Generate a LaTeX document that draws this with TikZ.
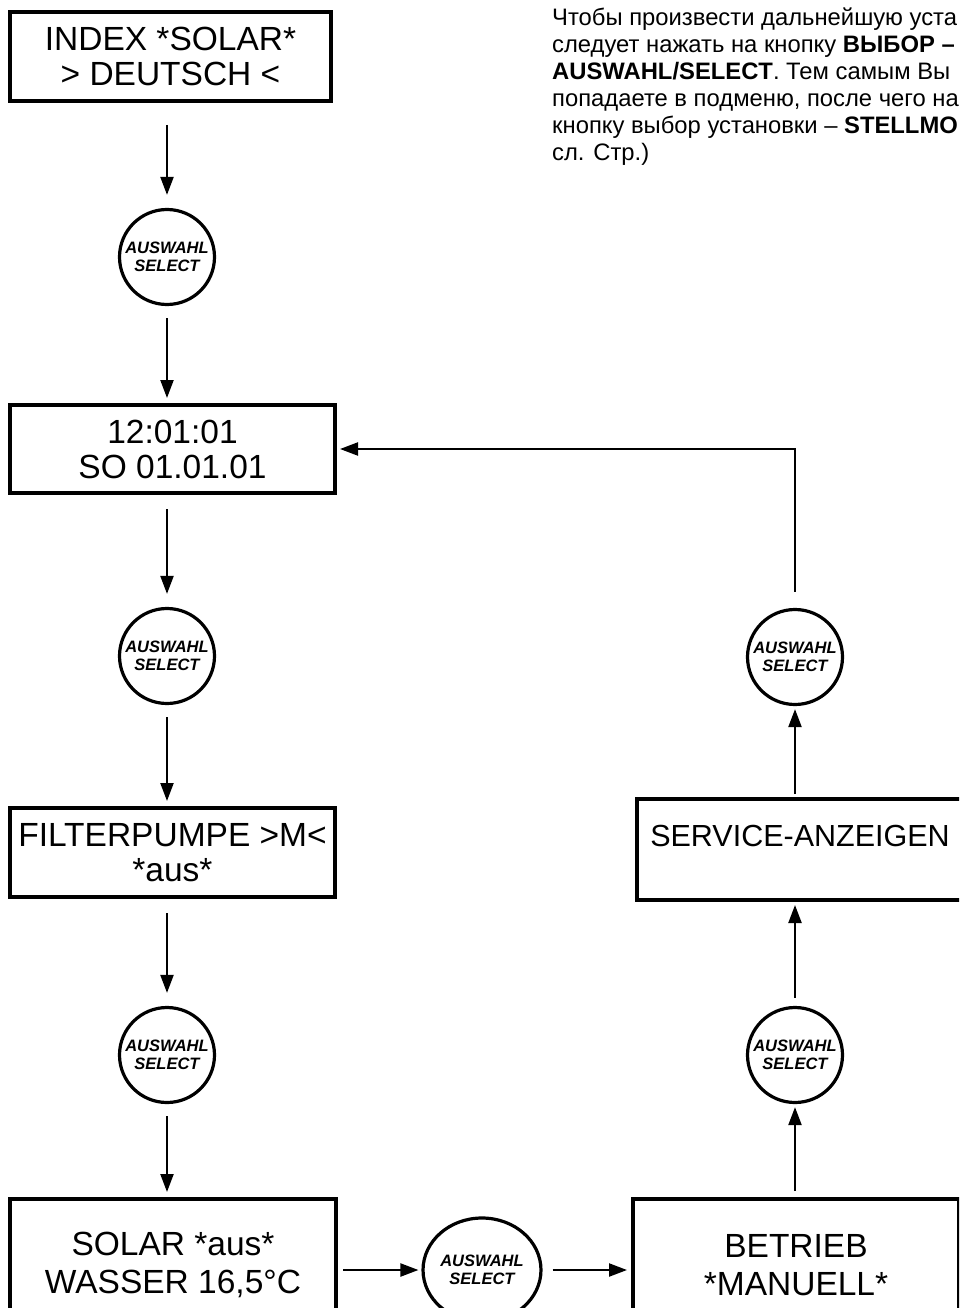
\documentclass[tikz,border=0pt]{standalone}
\usepackage{fontspec}
\setmainfont{Liberation Sans}
\usetikzlibrary{arrows.meta,shapes.geometric}
\begin{document}
\begin{tikzpicture}[x=1pt,y=-1pt,
 disp/.style={draw, line width=4pt, rectangle, inner sep=0pt, align=center, font=\fontsize{33.5}{35}\selectfont},
 btn/.style={draw, line width=3.2pt, circle, inner sep=0pt, minimum size=95pt, align=center, font=\fontsize{16.5}{18}\selectfont\bfseries\itshape},
 arr/.style={line width=2.2pt, -{Triangle[length=18pt,width=13pt]}},
 note/.style={anchor=base west, inner sep=0pt, font=\fontsize{23.8}{28}\selectfont}]
\clip (0,0) rectangle (959,1308);
\fill[white] (0,0) rectangle (959,1308);
% display boxes
\node[disp, minimum width=321pt, minimum height=89pt] (b1) at (170.5,56.5) {INDEX *SOLAR*\\> DEUTSCH <};
\node[disp, minimum width=325pt, minimum height=88pt] (b2) at (172.5,449) {12:01:01\\SO 01.01.01};
\node[disp, minimum width=325pt, minimum height=89pt] (b3) at (172.5,852.5) {FILTERPUMPE >M<\\*aus*};
\node[disp, minimum width=326pt, minimum height=132pt, font=\fontsize{33.5}{38}\selectfont] (b4) at (173,1265) {SOLAR *aus*\\WASSER 16,5°C};
\node[disp, minimum width=326pt, minimum height=132pt, font=\fontsize{33.5}{38}\selectfont] (b5) at (796,1265) {BETRIEB\\*MANUELL*};
\node[disp, minimum width=326pt, minimum height=101pt, font=\fontsize{30.5}{34}\selectfont] (b6) at (800,849.5) {\raisebox{-6pt}{SERVICE-ANZEIGEN}\\\mbox{}};
% buttons
\node[btn] (c1) at (167,257) {AUSWAHL\\SELECT};
\node[btn] (c2) at (167,656) {AUSWAHL\\SELECT};
\node[btn] (c3) at (167,1055) {AUSWAHL\\SELECT};
\node[btn, ellipse, minimum width=98pt, minimum height=104pt] (c4) at (482,1270) {AUSWAHL\\SELECT};
\node[btn] (c5) at (795,1055) {AUSWAHL\\SELECT};
\node[btn] (c6) at (795,657) {AUSWAHL\\SELECT};
% connectors
\draw[arr, shorten <=22pt, shorten >=13pt] (b1.south -| c1) -- (c1.north);
\draw[arr, shorten <=12pt, shorten >=5pt] (c1.south) -- (b2.north -| c1);
\draw[arr, shorten <=14pt, shorten >=13pt] (b2.south -| c2) -- (c2.north);
\draw[arr, shorten <=12pt, shorten >=5pt] (c2.south) -- (b3.north -| c2);
\draw[arr, shorten <=14pt, shorten >=13pt] (b3.south -| c3) -- (c3.north);
\draw[arr, shorten <=12pt, shorten >=5pt] (c3.south) -- (b4.north -| c3);
\draw[arr, shorten <=5pt, shorten >=3pt] (b4.east |- c4) -- (c4.west);
\draw[arr, shorten <=10pt, shorten >=4pt] (c4.east) -- (b5.west |- c4);
\draw[arr, shorten <=6pt, shorten >=3pt] (b5.north -| c5) -- (c5.south);
\draw[arr, shorten <=8pt, shorten >=3pt] (c5.north) -- (b6.south -| c5);
\draw[arr, shorten <=3pt, shorten >=3pt] (b6.north -| c6) -- (c6.south);
\draw[arr, shorten <=16pt, shorten >=3pt] (c6.north) -- (c6.north |- b2.east) -- (b2.east);
% note text
\node[note] (t1) at (552,26) {Чтобы произвести дальнейшую уста};
\node[note] (t2) at (552,53) {следует нажать на кнопку \textbf{ВЫБОР –}};
\node[note] (t3) at (552,80) {\textbf{AUSWAHL/SELECT}. Тем самым Вы};
\node[note] (t4) at (552,107) {попадаете в подменю, после чего на};
\node[note] (t5) at (552,134) {кнопку выбор установки – \textbf{STELLMO}};
\node[note] (t6) at (552,161) {сл. Стр.)};
\end{tikzpicture}
\end{document}
